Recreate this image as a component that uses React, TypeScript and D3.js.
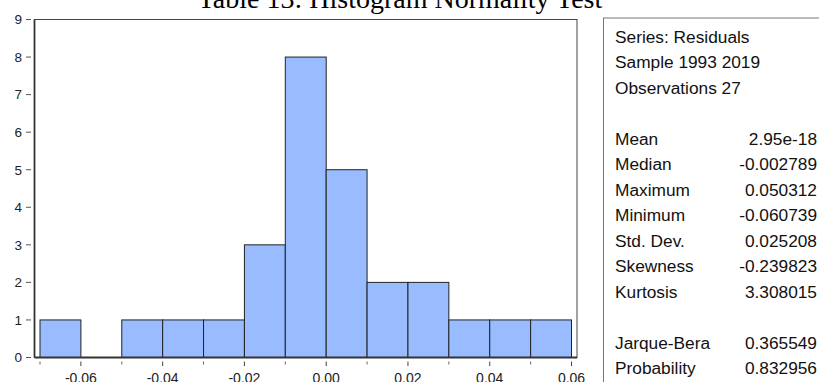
import React from "react";
import * as d3 from "d3";

const binStarts = [-0.07, -0.06, -0.05, -0.04, -0.03, -0.02, -0.01, 0.0, 0.01, 0.02, 0.03, 0.04, 0.05];
const binCounts = [1, 0, 1, 1, 1, 3, 8, 5, 2, 2, 1, 1, 1];
const binWidth = 0.01;
const yTicks = [0, 1, 2, 3, 4, 5, 6, 7, 8, 9];
const xMajorTicks = [-0.06, -0.04, -0.02, 0.0, 0.02, 0.04, 0.06];
const xMinorTicks = [-0.07, -0.05, -0.03, -0.01, 0.01, 0.03, 0.05];
const title = "Table 13: Histogram Normality Test";
const statHeader = ["Series: Residuals", "Sample 1993 2019", "Observations 27"];
const statLabels = ["Mean", "Median", "Maximum", "Minimum", "Std. Dev.", "Skewness", "Kurtosis"];
const statValues = ["2.95e-18", "-0.002789", "0.050312", "-0.060739", "0.025208", "-0.239823", "3.308015"];
const testLabels = ["Jarque-Bera", "Probability"];
const testValues = ["0.365549", "0.832956"];

export default function App() {
  const W = 819, H = 382;
  const frame = { left: 34.5, right: 577, top: 19.5, bottom: 357.5 };
  const x = d3.scaleLinear().domain([-0.07, 0.06]).range([40, 571.5]);
  const y = d3.scaleLinear().domain([0, 9]).range([357.5, 19.5]);
  const fmtX = (v: number) => (Math.abs(v) < 1e-9 ? "0.00" : d3.format(".2f")(v).replace("−", "-"));
  const sans = "'Liberation Sans', Arial, sans-serif";
  const rowY = (i: number) => 42.5 + 25.5 * i;

  const rows: { label: string; value?: string; i: number }[] = [];
  statHeader.forEach((t, i) => rows.push({ label: t, i }));
  statLabels.forEach((t, k) => rows.push({ label: t, value: statValues[k], i: 4 + k }));
  testLabels.forEach((t, k) => rows.push({ label: t, value: testValues[k], i: 12 + k }));

  return (
    <div style={{ position: "absolute", left: 0, top: 0 }}>
      <svg width={W} height={H} style={{ display: "block", background: "#fff" }}>
        <rect x={0} y={0} width={W} height={H} fill="#fff" />
        <text x={400} y={8} textAnchor="middle" fontFamily="'Liberation Serif', 'Times New Roman', serif" fontSize={28} fill="#000">
          {title}
        </text>
        {/* plot frame */}
        <rect x={frame.left} y={frame.top} width={frame.right - frame.left} height={frame.bottom - frame.top} fill="#fff" stroke="#444" strokeWidth={1} />
        {/* bars */}
        {binStarts.map((s, i) =>
          binCounts[i] > 0 ? (
            <rect
              key={i}
              x={x(s)}
              y={y(binCounts[i])}
              width={x(s + binWidth) - x(s)}
              height={y(0) - y(binCounts[i])}
              fill="#99bbff"
              stroke="#222"
              strokeWidth={1}
            />
          ) : null
        )}
        {/* thicker left & bottom axes */}
        <line x1={frame.left} x2={frame.left} y1={frame.top} y2={frame.bottom} stroke="#333" strokeWidth={1.8} />
        <line x1={frame.left} x2={frame.right} y1={frame.bottom} y2={frame.bottom} stroke="#333" strokeWidth={1.8} />
        {/* y ticks */}
        {yTicks.map((t) => (
          <g key={t}>
            <line x1={26} x2={31} y1={y(t)} y2={y(t)} stroke="#555" strokeWidth={1} />
            <text x={22} y={y(t) + 4.8} textAnchor="end" fontFamily={sans} fontSize={13.5} fill="#222">
              {t}
            </text>
          </g>
        ))}
        {/* x ticks */}
        {xMinorTicks.map((t) => (
          <line key={"m" + t} x1={x(t)} x2={x(t)} y1={361.5} y2={364.5} stroke="#666" strokeWidth={1} />
        ))}
        {xMajorTicks.map((t) => (
          <g key={"M" + t}>
            <line x1={x(t)} x2={x(t)} y1={361.5} y2={366} stroke="#444" strokeWidth={1} />
            <text x={x(t)} y={383} textAnchor="middle" fontFamily={sans} fontSize={14} fill="#222">
              {fmtX(t)}
            </text>
          </g>
        ))}
        {/* stats box */}
        <rect x={603.5} y={18} width={230} height={380} fill="#fff" stroke="#777" strokeWidth={1} />
        {rows.map((r) => (
          <g key={r.label}>
            <text x={615} y={rowY(r.i)} fontFamily={sans} fontSize={17.3} fill="#111">
              {r.label}
            </text>
            {r.value ? (
              <text x={817} y={rowY(r.i)} textAnchor="end" fontFamily={sans} fontSize={17.3} fill="#111">
                {r.value}
              </text>
            ) : null}
          </g>
        ))}
      </svg>
    </div>
  );
}
